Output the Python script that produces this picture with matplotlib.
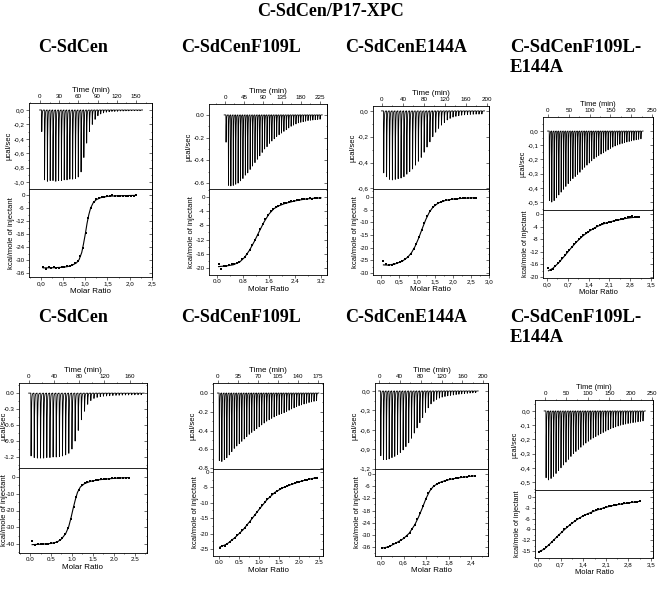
import numpy as np
import matplotlib
matplotlib.use("Agg")
import matplotlib.pyplot as plt
from matplotlib.ticker import FixedLocator, AutoMinorLocator, FuncFormatter

plt.rcParams['font.family'] = ['Liberation Sans', 'DejaVu Sans']

# ---------------- data ----------------
# panel 1: C-SdCen (row 1)
p1_ratio = [0.05, 0.11, 0.17, 0.23, 0.29, 0.35, 0.41, 0.47, 0.53, 0.59, 0.65, 0.71, 0.77, 0.83, 0.89, 0.95,
            1.01, 1.07, 1.13, 1.19, 1.25, 1.31, 1.37, 1.43, 1.49, 1.55, 1.61, 1.67, 1.73, 1.79, 1.85, 1.91,
            1.97, 2.03, 2.09, 2.15]
p1_heat = [-33.4, -33.9, -33.3, -33.6, -33.2, -33.8, -33.5, -33.4, -33.1, -32.9, -32.6, -32.1, -31.4, -30.2,
           -28.0, -24.2, -17.6, -10.6, -5.8, -3.2, -2.0, -1.5, -1.1, -0.9, -0.6, -0.5, -0.1, -0.4, -0.3, -0.3,
           -0.2, -0.3, -0.2, -0.2, -0.2, -0.1]
p1_fit_x = [0.05, 0.3, 0.5, 0.6, 0.7, 0.8, 0.86, 0.92, 0.96, 1.0, 1.04, 1.08, 1.12, 1.18, 1.25, 1.35, 1.5, 1.7,
            2.0, 2.15]
p1_fit_y = [-33.6, -33.5, -33.3, -33.0, -32.4, -31.3, -29.8, -26.5, -22.5, -18.0, -13.0, -9.0, -6.0, -3.5,
            -2.1, -1.2, -0.6, -0.35, -0.2, -0.15]
p1_peaks = [-0.30, -0.97, -0.99, -0.98, -0.98, -0.99, -0.98, -0.98, -0.97, -0.97, -0.96, -0.96, -0.95, -0.93,
            -0.86, -0.66, -0.46, -0.30, -0.20, -0.13, -0.08, -0.055, -0.04, -0.03, -0.025, -0.02, -0.02, -0.018,
            -0.015, -0.015, -0.012, -0.012, -0.01, -0.01, -0.01, -0.01]
p1_first_inj, p1_inj_every = 2.6, 4.38

# panel 2: C-SdCenF109L (row 1)
p2_ratio = [0.05, 0.13, 0.21, 0.29, 0.37, 0.45, 0.53, 0.61, 0.69, 0.77, 0.85, 0.93, 1.01, 1.09, 1.17, 1.25,
            1.33, 1.41, 1.49, 1.57, 1.65, 1.73, 1.81, 1.89, 1.97, 2.05, 2.13, 2.21, 2.29, 2.37, 2.45, 2.53,
            2.61, 2.69, 2.77, 2.85, 2.93, 3.01, 3.09, 3.17]
p2_heat = [-18.9, -20.2, -19.4, -19.5, -19.1, -19.0, -18.9, -18.6, -18.2, -17.6, -16.9, -16.0, -14.9, -13.6,
           -12.2, -10.7, -9.1, -7.6, -6.2, -5.0, -4.0, -3.3, -2.8, -2.4, -2.1, -1.8, -1.6, -1.4, -1.2, -1.0,
           -0.9, -0.8, -0.6, -0.6, -0.5, -0.4, -0.5, -0.3, -0.4, -0.2]
p2_fit_x = [0.05, 0.3, 0.5, 0.7, 0.85, 1.0, 1.15, 1.3, 1.45, 1.6, 1.75, 1.9, 2.1, 2.4, 2.7, 3.0, 3.2]
p2_fit_y = [-19.6, -19.4, -19.1, -18.3, -17.0, -15.0, -12.5, -9.7, -7.0, -4.8, -3.3, -2.5, -1.8, -1.1, -0.6,
            -0.35, -0.25]
p2_peaks = [-0.24, -0.62, -0.625, -0.62, -0.61, -0.60, -0.58, -0.56, -0.53, -0.51, -0.48, -0.45, -0.42, -0.39,
            -0.36, -0.33, -0.30, -0.28, -0.25, -0.23, -0.21, -0.19, -0.175, -0.16, -0.145, -0.13, -0.115, -0.10,
            -0.09, -0.08, -0.07, -0.065, -0.06, -0.055, -0.05, -0.047, -0.045, -0.042, -0.04, -0.038]
p2_first_inj, p2_inj_every = 2.0, 5.72

# panel 3: C-SdCenE144A (row 1)
p3_ratio = [0.07, 0.15, 0.22, 0.30, 0.37, 0.45, 0.53, 0.60, 0.68, 0.75, 0.83, 0.91, 0.98, 1.06, 1.13, 1.21,
            1.29, 1.36, 1.44, 1.51, 1.59, 1.67, 1.74, 1.82, 1.89, 1.97, 2.05, 2.12, 2.20, 2.27, 2.35, 2.43,
            2.50, 2.58, 2.65]
p3_heat = [-25.2, -26.6, -26.9, -26.7, -26.4, -26.1, -25.7, -25.2, -24.5, -23.6, -22.4, -20.7, -18.6, -15.9,
           -13.0, -10.1, -7.5, -5.5, -4.0, -3.0, -2.3, -1.8, -1.4, -1.1, -1.0, -0.8, -0.7, -0.6, -0.5, -0.5,
           -0.4, -0.3, -0.3, -0.2, -0.3]
p3_fit_x = [0.07, 0.2, 0.4, 0.6, 0.75, 0.85, 0.95, 1.05, 1.15, 1.25, 1.35, 1.45, 1.6, 1.8, 2.0, 2.3, 2.65]
p3_fit_y = [-26.8, -26.9, -26.4, -25.3, -23.7, -22.0, -19.5, -16.2, -12.4, -8.8, -5.9, -3.9, -2.3, -1.3, -0.8,
            -0.45, -0.25]
p3_peaks = [-0.48, -0.51, -0.53, -0.535, -0.53, -0.525, -0.52, -0.51, -0.49, -0.47, -0.45, -0.42, -0.39, -0.36,
            -0.32, -0.28, -0.24, -0.20, -0.165, -0.135, -0.11, -0.09, -0.07, -0.058, -0.048, -0.042, -0.037,
            -0.033, -0.03, -0.028, -0.027, -0.026, -0.025, -0.025, -0.024]
p3_first_inj, p3_inj_every = 3.0, 5.5

# panel 4: C-SdCenF109L-E144A (row 1)
p4_ratio = [0.05, 0.13, 0.21, 0.28, 0.36, 0.44, 0.52, 0.60, 0.68, 0.75, 0.83, 0.91, 0.99, 1.07, 1.15, 1.22,
            1.30, 1.38, 1.46, 1.54, 1.61, 1.69, 1.77, 1.85, 1.93, 2.01, 2.08, 2.16, 2.24, 2.32, 2.40, 2.48,
            2.55, 2.63, 2.71, 2.79, 2.87, 2.95, 3.02, 3.10]
p4_heat = [-17.1, -17.9, -17.3, -16.5, -15.7, -14.9, -14.0, -13.1, -12.2, -11.3, -10.4, -9.6, -8.8, -8.0,
           -7.3, -6.7, -6.1, -5.6, -5.1, -4.7, -4.3, -3.9, -3.6, -3.3, -3.0, -2.8, -2.6, -2.4, -2.2, -2.0,
           -1.9, -1.7, -1.5, -1.3, -1.0, -0.9, -0.7, -0.8, -0.9, -1.1]
p4_fit_x = [0.05, 0.2, 0.4, 0.6, 0.8, 1.0, 1.2, 1.4, 1.6, 1.8, 2.0, 2.2, 2.4, 2.6, 2.8, 3.1]
p4_fit_y = [-18.0, -17.2, -15.4, -13.2, -10.9, -8.8, -7.0, -5.6, -4.4, -3.5, -2.8, -2.3, -1.9, -1.5, -1.2, -0.9]
p4_peaks = [-0.49, -0.50, -0.49, -0.47, -0.45, -0.43, -0.41, -0.39, -0.37, -0.35, -0.335, -0.32, -0.305, -0.29,
            -0.27, -0.255, -0.24, -0.225, -0.21, -0.195, -0.183, -0.172, -0.162, -0.153, -0.142, -0.132, -0.122,
            -0.113, -0.105, -0.098, -0.092, -0.087, -0.082, -0.077, -0.073, -0.069, -0.065, -0.061, -0.058,
            -0.055]
p4_first_inj, p4_inj_every = 3.0, 5.64

# panel 5: C-SdCen (row 2)
p5_ratio = [0.05, 0.12, 0.18, 0.25, 0.31, 0.38, 0.44, 0.51, 0.58, 0.64, 0.71, 0.77, 0.84, 0.90, 0.97, 1.04,
            1.10, 1.17, 1.23, 1.30, 1.36, 1.43, 1.50, 1.56, 1.63, 1.69, 1.76, 1.82, 1.89, 1.96, 2.02, 2.09,
            2.15, 2.22, 2.28, 2.35]
p5_heat = [-38.4, -40.6, -40.3, -40.1, -40.2, -39.9, -39.8, -39.6, -39.3, -38.8, -37.8, -36.3, -34.0, -30.5,
           -24.8, -18.0, -12.0, -7.5, -5.0, -3.8, -3.0, -2.5, -2.1, -1.8, -1.6, -1.4, -1.2, -1.1, -0.9, -0.8,
           -0.7, -0.6, -0.5, -0.5, -0.3, -0.3]
p5_fit_x = [0.05, 0.3, 0.5, 0.65, 0.75, 0.85, 0.92, 0.98, 1.03, 1.08, 1.13, 1.2, 1.3, 1.45, 1.65, 1.9, 2.1, 2.35]
p5_fit_y = [-40.4, -40.1, -39.7, -38.8, -37.0, -33.8, -29.8, -24.0, -18.5, -13.5, -9.2, -5.9, -3.9, -2.5, -1.6,
            -1.0, -0.6, -0.35]
p5_peaks = [-1.18, -1.21, -1.22, -1.22, -1.22, -1.21, -1.21, -1.20, -1.20, -1.19, -1.18, -1.16, -1.13, -1.05,
            -0.90, -0.70, -0.50, -0.34, -0.21, -0.14, -0.10, -0.08, -0.065, -0.058, -0.053, -0.049, -0.045,
            -0.042, -0.04, -0.038, -0.036, -0.035, -0.033, -0.032, -0.031, -0.03]
p5_first_inj, p5_inj_every = 3.0, 5.0

# panel 6: C-SdCenF109L (row 2)
p6_ratio = [0.02, 0.08, 0.14, 0.21, 0.27, 0.33, 0.39, 0.46, 0.52, 0.58, 0.64, 0.71, 0.77, 0.83, 0.89, 0.95,
            1.02, 1.08, 1.14, 1.20, 1.27, 1.33, 1.39, 1.45, 1.52, 1.58, 1.64, 1.70, 1.76, 1.83, 1.89, 1.95,
            2.01, 2.08, 2.14, 2.20, 2.26, 2.33, 2.39, 2.45]
p6_heat = [-24.6, -24.0, -23.9, -23.3, -22.6, -22.0, -21.3, -20.6, -19.8, -19.0, -18.1, -17.1, -16.1, -15.0,
           -13.9, -12.9, -11.8, -10.7, -9.8, -8.9, -8.1, -7.3, -6.7, -6.1, -5.6, -5.2, -4.9, -4.5, -4.2, -3.9,
           -3.6, -3.3, -3.1, -2.9, -2.7, -2.5, -2.3, -2.2, -2.0, -1.8]
p6_fit_x = [0.02, 0.2, 0.4, 0.6, 0.8, 1.0, 1.2, 1.4, 1.6, 1.8, 2.0, 2.2, 2.45]
p6_fit_y = [-24.4, -23.4, -21.3, -18.8, -15.6, -12.2, -9.0, -6.6, -5.1, -4.1, -3.2, -2.5, -1.8]
p6_peaks = [-0.72, -0.73, -0.71, -0.69, -0.66, -0.625, -0.59, -0.565, -0.54, -0.515, -0.49, -0.465, -0.44,
            -0.42, -0.40, -0.38, -0.36, -0.34, -0.32, -0.30, -0.285, -0.27, -0.255, -0.24, -0.23, -0.22, -0.21,
            -0.196, -0.183, -0.17, -0.158, -0.146, -0.135, -0.126, -0.117, -0.109, -0.101, -0.094, -0.088,
            -0.082]
p6_first_inj, p6_inj_every = 2.0, 4.36

# panel 7: C-SdCenE144A (row 2)
p7_ratio = [0.03, 0.10, 0.18, 0.25, 0.32, 0.39, 0.47, 0.54, 0.61, 0.68, 0.76, 0.83, 0.90, 0.97, 1.05, 1.12,
            1.19, 1.26, 1.34, 1.41, 1.48, 1.55, 1.63, 1.70, 1.77, 1.84, 1.92, 1.99, 2.06, 2.13, 2.21, 2.28,
            2.35, 2.42, 2.50]
p7_heat = [-36.3, -36.6, -36.1, -35.5, -34.7, -34.0, -33.3, -32.5, -31.6, -30.5, -29.0, -27.2, -25.0, -22.3,
           -19.0, -15.6, -12.3, -9.5, -7.3, -5.8, -4.8, -4.2, -3.7, -3.3, -2.9, -2.6, -2.3, -2.1, -1.9, -1.7,
           -1.5, -1.3, -1.2, -1.0, -0.8]
p7_fit_x = [0.03, 0.2, 0.4, 0.6, 0.75, 0.9, 1.0, 1.1, 1.2, 1.3, 1.4, 1.55, 1.7, 1.9, 2.1, 2.3, 2.5]
p7_fit_y = [-36.5, -35.9, -34.0, -31.8, -29.2, -25.0, -21.2, -16.8, -12.0, -8.3, -6.0, -4.3, -3.3, -2.4, -1.8,
            -1.3, -0.9]
p7_peaks = [-1.0, -1.06, -1.06, -1.05, -1.03, -1.01, -0.98, -0.95, -0.91, -0.86, -0.80, -0.73, -0.65, -0.57,
            -0.49, -0.41, -0.33, -0.26, -0.20, -0.16, -0.13, -0.11, -0.095, -0.085, -0.075, -0.068, -0.062,
            -0.055, -0.05, -0.045, -0.04, -0.036, -0.032, -0.029, -0.026]
p7_first_inj, p7_inj_every = 3.0, 5.35

# panel 8: C-SdCenF109L-E144A (row 2)
p8_ratio = [0.02, 0.10, 0.18, 0.26, 0.34, 0.42, 0.50, 0.58, 0.66, 0.74, 0.82, 0.90, 0.98, 1.06, 1.14, 1.22,
            1.30, 1.39, 1.47, 1.55, 1.63, 1.71, 1.79, 1.87, 1.95, 2.03, 2.11, 2.19, 2.27, 2.35, 2.43, 2.51,
            2.59, 2.67, 2.75, 2.83, 2.91, 2.99, 3.07, 3.15]
p8_heat = [-15.2, -15.0, -14.5, -13.9, -13.2, -12.5, -11.8, -11.1, -10.4, -9.7, -9.0, -8.3, -7.8, -7.2, -6.7,
           -6.2, -5.7, -5.3, -4.9, -4.6, -4.3, -4.0, -3.7, -3.4, -3.2, -3.0, -2.8, -2.6, -2.4, -2.3, -2.2, -2.0,
           -1.9, -1.8, -1.7, -1.6, -1.5, -1.4, -1.3, -1.1]
p8_fit_x = [0.02, 0.2, 0.4, 0.6, 0.8, 1.0, 1.2, 1.4, 1.6, 1.8, 2.0, 2.3, 2.6, 2.9, 3.15]
p8_fit_y = [-15.2, -14.4, -12.7, -10.9, -9.2, -7.6, -6.3, -5.2, -4.4, -3.7, -3.1, -2.4, -1.9, -1.5, -1.2]
p8_peaks = [-0.47, -0.485, -0.475, -0.46, -0.44, -0.42, -0.40, -0.38, -0.36, -0.34, -0.32, -0.30, -0.285,
            -0.27, -0.255, -0.24, -0.226, -0.213, -0.20, -0.19, -0.18, -0.17, -0.16, -0.151, -0.142, -0.133,
            -0.125, -0.118, -0.112, -0.106, -0.10, -0.096, -0.092, -0.088, -0.085, -0.082, -0.079, -0.076,
            -0.073, -0.07]
p8_first_inj, p8_inj_every = 2.0, 5.8

main_title = "C-SdCen/P17-XPC"
column_titles = ["C-SdCen", "C-SdCenF109L", "C-SdCenE144A", "C-SdCenF109L-", "E144A"]

FIG_W, FIG_H = 659, 595


def rect(x0, x1, y0, y1):
    """pixel box (y from top) -> figure fraction rect"""
    return [x0 / FIG_W, 1 - y1 / FIG_H, (x1 - x0) / FIG_W, (y1 - y0) / FIG_H]


def formatter(decimals, comma):
    def f(v, pos):
        s = f"{v:.{decimals}f}"
        if float(s) == 0:
            s = s.lstrip('-')
        return s.replace('.', ',') if comma else s
    return FuncFormatter(f)


def spike_trace(first, every, peaks):
    """baseline with one sharp exothermic spike per injection"""
    xs, ys = [first - 0.7 * every], [0.0]
    tail = np.linspace(0, 0.85, 9)[1:] * every
    for i, d in enumerate(peaks):
        t = first + i * every
        tip = t + 0.08 * every
        xs += [t, tip] + list(tip + tail)
        ys += [0.0, d] + list(d * np.exp(-tail / (0.11 * every)))
    xs.append(first + len(peaks) * every)
    ys.append(0.0)
    return xs, ys


def dress(ax, xticks, yticks, xfmt, yfmt):
    ax.xaxis.set_major_locator(FixedLocator(xticks))
    ax.yaxis.set_major_locator(FixedLocator(yticks))
    ax.xaxis.set_minor_locator(AutoMinorLocator(2))
    ax.yaxis.set_minor_locator(AutoMinorLocator(2))
    ax.xaxis.set_major_formatter(xfmt)
    ax.yaxis.set_major_formatter(yfmt)
    ax.tick_params(which='both', labelsize=4.5, width=0.4, pad=1, direction='out')
    ax.tick_params(which='major', length=2)
    ax.tick_params(which='minor', length=1)
    for s in ax.spines.values():
        s.set_linewidth(0.6)
    # inward ticks on the right side
    sec = ax.secondary_yaxis('right')
    sec.yaxis.set_major_locator(FixedLocator(yticks))
    sec.yaxis.set_minor_locator(AutoMinorLocator(2))
    sec.tick_params(which='both', direction='in', width=0.4, labelright=False)
    sec.tick_params(which='major', length=2)
    sec.tick_params(which='minor', length=1)
    sec.spines['right'].set_linewidth(0.6)


def place_ylabel(ax, text, size, x0, x1, ylab_px):
    ax.set_ylabel(text, fontsize=size, labelpad=0.8)
    if ylab_px is not None:
        # label anchor sits on the right-hand side of the rotated text
        ax.yaxis.set_label_coords((ylab_px - x0) / (x1 - x0), 0.5)


def draw_panel(fig, p):
    x0, x1, yt, ym, yb = p['box']
    lab = p['lab']
    # raw power trace
    ax = fig.add_axes(rect(x0, x1, yt, ym))
    tx, ty = spike_trace(p['first'], p['every'], p['peaks'])
    ax.plot(tx, ty, color='black', lw=0.6)
    ax.set_xlim(*p['t_lim'])
    ax.set_ylim(*p['p_lim'])
    dress(ax, p['t_ticks'], p['p_ticks'], formatter(0, False), formatter(1, p['comma']))
    ax.xaxis.tick_top()
    ax.xaxis.set_label_position('top')
    ax.tick_params(axis='x', which='both', bottom=False, labelbottom=False)
    ax.set_xlabel("Time (min)", fontsize=lab, labelpad=1.5)
    place_ylabel(ax, "µcal/sec", lab - 0.3, x0, x1, p['ylab_px'])

    # integrated heats
    bx = fig.add_axes(rect(x0, x1, ym, yb))
    bx.plot(p['fit_x'], p['fit_y'], color='black', lw=0.8)
    bx.plot(p['ratio'], p['heat'], 's', color='black', ms=2.1, mew=0)
    bx.set_xlim(*p['r_lim'])
    bx.set_ylim(*p['h_lim'])
    dress(bx, p['r_ticks'], p['h_ticks'], formatter(1, p['comma']), formatter(0, False))
    bx.set_xlabel("Molar Ratio", fontsize=lab, labelpad=1.5)
    place_ylabel(bx, "kcal/mole of injectant", lab - 0.3, x0, x1, p['ylab_px'])


def main():
    fig = plt.figure(figsize=(FIG_W / 100, FIG_H / 100), dpi=100)

    panels = [
        dict(box=(29, 152, 103, 189, 277), ylab_px=None, first=p1_first_inj, every=p1_inj_every, peaks=p1_peaks,
             ratio=p1_ratio, heat=p1_heat, fit_x=p1_fit_x, fit_y=p1_fit_y, comma=True, lab=5.8,
             t_lim=(-17, 175), t_ticks=[0, 30, 60, 90, 120, 150],
             p_lim=(-1.097, 0.097), p_ticks=[0, -0.2, -0.4, -0.6, -0.8, -1.0],
             r_lim=(-0.27, 2.505), r_ticks=[0, 0.5, 1.0, 1.5, 2.0, 2.5],
             h_lim=(-37.8, 2.8), h_ticks=[0, -6, -12, -18, -24, -30, -36]),
        dict(box=(209, 327, 104, 189, 275), ylab_px=None, first=p2_first_inj, every=p2_inj_every, peaks=p2_peaks,
             ratio=p2_ratio, heat=p2_heat, fit_x=p2_fit_x, fit_y=p2_fit_y, comma=False, lab=5.8,
             t_lim=(-38, 242), t_ticks=[0, 45, 90, 135, 180, 225],
             p_lim=(-0.652, 0.096), p_ticks=[0, -0.2, -0.4, -0.6],
             r_lim=(-0.246, 3.385), r_ticks=[0, 0.8, 1.6, 2.4, 3.2],
             h_lim=(-21.97, 2.25), h_ticks=[0, -4, -8, -12, -16, -20]),
        dict(box=(373, 489, 106, 189, 275), ylab_px=None, first=p3_first_inj, every=p3_inj_every, peaks=p3_peaks,
             ratio=p3_ratio, heat=p3_heat, fit_x=p3_fit_x, fit_y=p3_fit_y, comma=True, lab=5.8,
             t_lim=(-17, 204), t_ticks=[0, 40, 80, 120, 160, 200],
             p_lim=(-0.605, 0.038), p_ticks=[0, -0.2, -0.4, -0.6],
             r_lim=(-0.22, 3.005), r_ticks=[0, 0.5, 1.0, 1.5, 2.0, 2.5, 3.0],
             h_lim=(-30.8, 3.2), h_ticks=[0, -5, -10, -15, -20, -25, -30]),
        dict(box=(543, 653, 117, 210, 278), ylab_px=None, first=p4_first_inj, every=p4_inj_every, peaks=p4_peaks,
             ratio=p4_ratio, heat=p4_heat, fit_x=p4_fit_x, fit_y=p4_fit_y, comma=True, lab=5.4,
             t_lim=(-12, 252.4), t_ticks=[0, 50, 100, 150, 200, 250],
             p_lim=(-0.556, 0.099), p_ticks=[0, -0.1, -0.2, -0.3, -0.4, -0.5],
             r_lim=(-0.135, 3.567), r_ticks=[0, 0.7, 1.4, 2.1, 2.8, 3.5],
             h_lim=(-20.3, 1.27), h_ticks=[0, -4, -8, -12, -16, -20]),
        dict(box=(19, 147, 383, 468, 553), ylab_px=8, first=p5_first_inj, every=p5_inj_every, peaks=p5_peaks,
             ratio=p5_ratio, heat=p5_heat, fit_x=p5_fit_x, fit_y=p5_fit_y, comma=False, lab=5.8,
             t_lim=(-15.8, 187.7), t_ticks=[0, 40, 80, 120, 160],
             p_lim=(-1.406, 0.19), p_ticks=[0, -0.3, -0.6, -0.9, -1.2],
             r_lim=(-0.262, 2.786), r_ticks=[0, 0.5, 1.0, 1.5, 2.0, 2.5],
             h_lim=(-45.4, 5.4), h_ticks=[0, -10, -20, -30, -40]),
        dict(box=(213, 323, 383, 469, 556), ylab_px=None, first=p6_first_inj, every=p6_inj_every, peaks=p6_peaks,
             ratio=p6_ratio, heat=p6_heat, fit_x=p6_fit_x, fit_y=p6_fit_y, comma=False, lab=5.8,
             t_lim=(-8.75, 183.75), t_ticks=[0, 35, 70, 105, 140, 175],
             p_lim=(-0.81, 0.107), p_ticks=[0, -0.2, -0.4, -0.6, -0.8],
             r_lim=(-0.15, 2.6), r_ticks=[0, 0.5, 1.0, 1.5, 2.0, 2.5],
             h_lim=(-27.3, 0.97), h_ticks=[0, -5, -10, -15, -20, -25]),
        dict(box=(375, 488, 383, 469, 556), ylab_px=None, first=p7_first_inj, every=p7_inj_every, peaks=p7_peaks,
             ratio=p7_ratio, heat=p7_heat, fit_x=p7_fit_x, fit_y=p7_fit_y, comma=True, lab=5.8,
             t_lim=(-7.7, 209), t_ticks=[0, 40, 80, 120, 160, 200],
             p_lim=(-1.205, 0.123), p_ticks=[0, -0.3, -0.6, -0.9, -1.2],
             r_lim=(-0.16, 2.85), r_ticks=[0, 0.6, 1.2, 1.8, 2.4],
             h_lim=(-40.4, 2.47), h_ticks=[0, -6, -12, -18, -24, -30, -36]),
        dict(box=(535, 653, 400, 490, 558), ylab_px=None, first=p8_first_inj, every=p8_inj_every, peaks=p8_peaks,
             ratio=p8_ratio, heat=p8_heat, fit_x=p8_fit_x, fit_y=p8_fit_y, comma=True, lab=5.4,
             t_lim=(-23.4, 252), t_ticks=[0, 50, 100, 150, 200, 250],
             p_lim=(-0.556, 0.077), p_ticks=[0, -0.1, -0.2, -0.3, -0.4, -0.5],
             r_lim=(-0.093, 3.56), r_ticks=[0, 0.7, 1.4, 2.1, 2.8, 3.5],
             h_lim=(-16.9, 1.94), h_ticks=[0, -3, -6, -9, -12, -15]),
    ]
    for p in panels:
        draw_panel(fig, p)

    serif = dict(family=['Liberation Serif', 'DejaVu Serif'], fontweight='bold', fontsize=13)
    fig.text(331 / FIG_W, 1 - 11 / FIG_H, main_title, ha='center', va='center', **serif)
    centers = [73, 241, 406]
    wide = {**serif, 'fontsize': 13.5}
    for row_y in (47, 317):
        for cx, name in zip(centers, column_titles[:3]):
            fig.text(cx / FIG_W, 1 - row_y / FIG_H, name, ha='center', va='center', **serif)
        fig.text(510 / FIG_W, 1 - row_y / FIG_H, column_titles[3], ha='left', va='center', **wide)
        fig.text(510 / FIG_W, 1 - (row_y + 21) / FIG_H, column_titles[4], ha='left', va='center', **wide)

    fig.savefig("out.png", dpi=100)


if __name__ == "__main__":
    main()
